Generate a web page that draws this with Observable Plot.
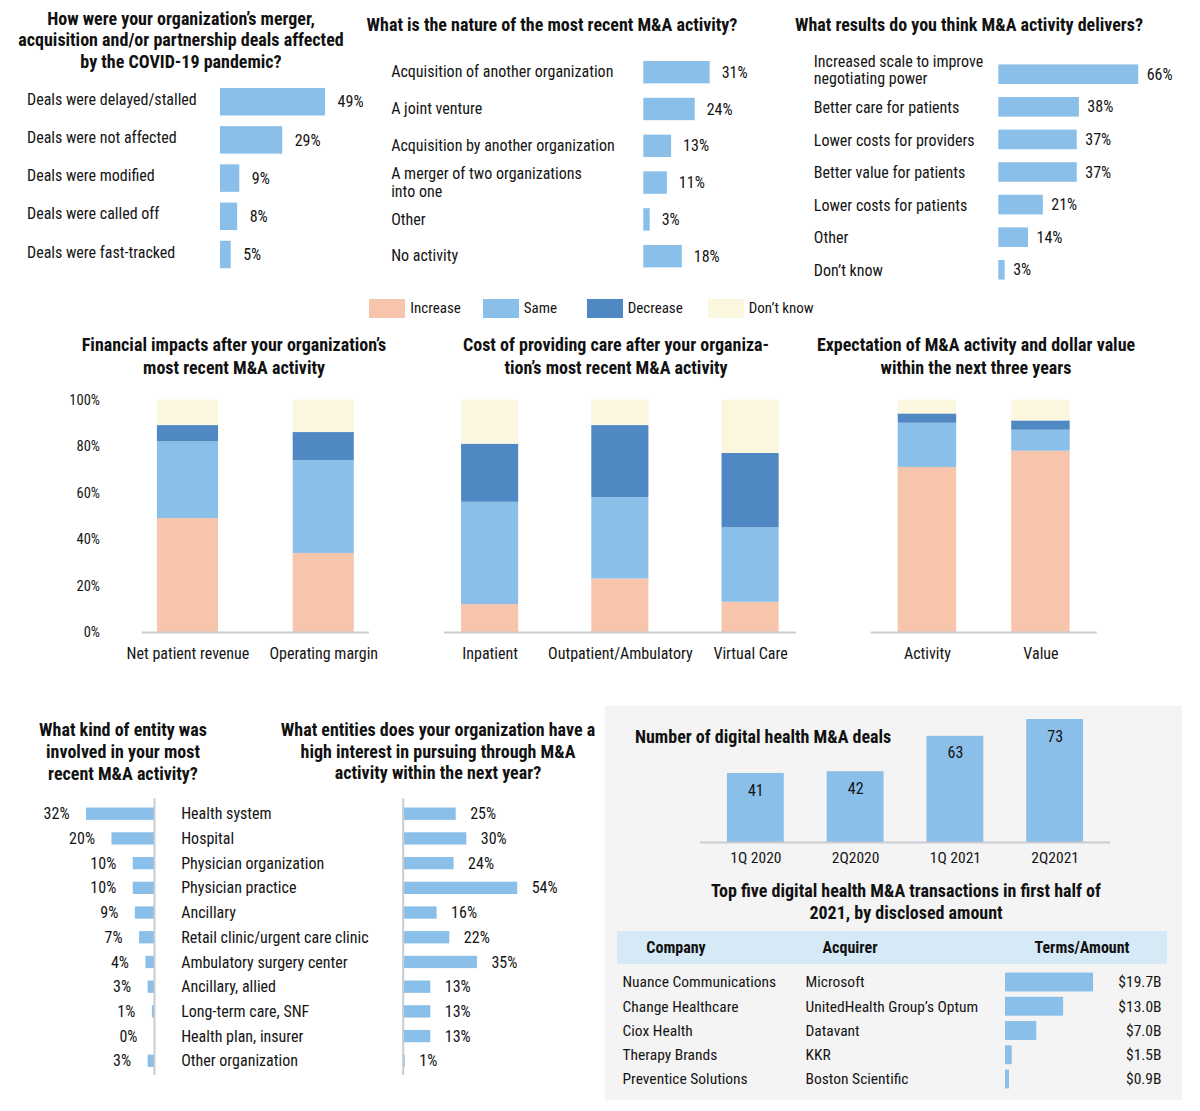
<!DOCTYPE html>
<html><head><meta charset="utf-8">
<script src="https://cdn.jsdelivr.net/npm/d3@7"></script>
<script src="https://cdn.jsdelivr.net/npm/@observablehq/plot@0.6"></script>
<style>
body{margin:0;background:#fff;}
#root{position:relative;width:1200px;height:1111px;overflow:hidden;font-family:"Roboto Condensed","Liberation Sans Narrow","DejaVu Sans Condensed","Arial Narrow",Roboto,sans-serif;font-stretch:condensed;color:#141414;}
.t{position:absolute;font-weight:700;font-size:18px;text-align:center;color:#111;white-space:pre;}
.h{position:absolute;font-weight:700;font-size:16px;color:#111;white-space:pre;}
</style></head><body><div id="root"></div>
<script>
// ---------------- DATA ----------------
const covidLabels = ["Deals were delayed/stalled","Deals were not affected","Deals were modified","Deals were called off","Deals were fast-tracked"];
const covidValues = [49,29,9,8,5];
const natureLabels = ["Acquisition of another organization","A joint venture","Acquisition by another organization","A merger of two organizations\ninto one","Other","No activity"];
const natureValues = [31,24,13,11,3,18];
const resultsLabels = ["Increased scale to improve\nnegotiating power","Better care for patients","Lower costs for providers","Better value for patients","Lower costs for patients","Other","Don’t know"];
const resultsValues = [66,38,37,37,21,14,3];
const responses = ["Increase","Same","Decrease","Don’t know"];
const responseColors = ["#f7c5ac","#89bfe8","#4f88c3","#fbf6de"];
const financialCategories = ["Net patient revenue","Operating margin"];
const financialIncrease = [49,34], financialSame = [33,40], financialDecrease = [7,12], financialDontKnow = [11,14];
const costCategories = ["Inpatient","Outpatient/Ambulatory","Virtual Care"];
const costIncrease = [12,23,13], costSame = [44,35,32], costDecrease = [25,31,32], costDontKnow = [19,11,23];
const expectCategories = ["Activity","Value"];
const expectIncrease = [71,78], expectSame = [19,9], expectDecrease = [4,4], expectDontKnow = [6,9];
const percentTicks = [0,20,40,60,80,100];
const entityLabels = ["Health system","Hospital","Physician organization","Physician practice","Ancillary","Retail clinic/urgent care clinic","Ambulatory surgery center","Ancillary, allied","Long-term care, SNF","Health plan, insurer","Other organization"];
const entityRecent = [32,20,10,10,9,7,4,3,1,0,3];
const entityInterest = [25,30,24,54,16,22,35,13,13,13,1];
const quarters = ["1Q 2020","2Q2020","1Q 2021","2Q2021"];
const dealCounts = [41,42,63,73];
const companies = ["Nuance Communications","Change Healthcare","Ciox Health","Therapy Brands","Preventice Solutions"];
const acquirers = ["Microsoft","UnitedHealth Group’s Optum","Datavant","KKR","Boston Scientific"];
const amounts = [19.7,13.0,7.0,1.5,0.9];
const amountLabels = ["$19.7B","$13.0B","$7.0B","$1.5B","$0.9B"];
const tableHeaders = ["Company","Acquirer","Terms/Amount"];

// ---------------- HELPERS ----------------
const FONT = '"Roboto Condensed","Liberation Sans Narrow","DejaVu Sans Condensed","Arial Narrow",Roboto,sans-serif';
const BLUE = "#89bfe8";
const INK = "#141414";
const AXIS = "#c9ccd0";
const root = document.getElementById("root");
const baseStyle = {fontFamily: FONT, fontSize: "16px", background: "transparent", color: INK, overflow: "visible", fontStretch: "condensed"};

function place(node, left, top) {
  node.style.position = "absolute";
  node.style.left = left + "px";
  node.style.top = top + "px";
  root.appendChild(node);
  return node;
}
function title(text, cx, firstY, lh = 22, size = 18) {
  const d = document.createElement("div");
  d.className = "t";
  d.textContent = text;
  d.style.fontSize = size + "px";
  d.style.lineHeight = lh + "px";
  d.style.width = "700px";
  d.style.left = (cx - 350) + "px";
  d.style.top = (firstY - lh / 2) + "px";
  root.appendChild(d);
}
function box(left, top, w, h, bg) {
  const d = document.createElement("div");
  Object.assign(d.style, {position: "absolute", left: left + "px", top: top + "px", width: w + "px", height: h + "px", background: bg});
  root.appendChild(d);
}

function hbarPanel({labels, values, left, top, width, labelX, barX, pxPer, rowFirst, step, barH, valueDx, labelDy = 0, multiDy = 0}) {
  const rows = labels.map((label, i) => ({label, value: values[i]}));
  const single = rows.filter(d => !d.label.includes("\n"));
  const multi = rows.filter(d => d.label.includes("\n"));
  const y0 = rowFirst - step / 2 - top, y1 = y0 + step * labels.length;
  const bx = barX - left;
  const labelOpts = {y: "label", text: "label", frameAnchor: "left", dx: labelX - barX, textAnchor: "start", fontSize: 16, lineHeight: 1.1, fill: INK};
  const plot = Plot.plot({
    width, height: Math.ceil(y1 + 6),
    marginLeft: bx, marginRight: 0, marginTop: 0, marginBottom: 0,
    style: baseStyle,
    x: {domain: [0, 100], range: [bx, bx + pxPer * 100], axis: null},
    y: {domain: labels, range: [y0, y1], padding: 0, round: false, axis: null},
    marks: [
      Plot.barX(rows, {x: "value", y: "label", fill: BLUE, insetTop: (step - barH) / 2, insetBottom: (step - barH) / 2}),
      Plot.text(single, {...labelOpts, dy: labelDy}),
      Plot.text(multi, {...labelOpts, dy: labelDy + multiDy}),
      Plot.text(rows, {x: "value", y: "label", text: d => d.value + "%", dx: valueDx, textAnchor: "start", fontSize: 16, fill: INK})
    ]
  });
  place(plot, left, top);
}

function stackPanel({cats, series, left, width, frameL, frameR, pi, po, showY}) {
  const top = 380, height = 300;
  const rows = [];
  cats.forEach((c, i) => responses.forEach((r, j) => rows.push({cat: c, resp: r, value: series[j][i]})));
  const plot = Plot.plot({
    width, height,
    marginTop: 399.5 - top, marginBottom: height - (632 - top),
    marginLeft: frameL - left, marginRight: width - (frameR - left),
    style: {...baseStyle, fontSize: "14.5px"},
    x: {domain: cats, paddingInner: pi, paddingOuter: po, round: false, axis: null},
    y: showY ? {domain: [0, 100], ticks: percentTicks, tickFormat: d => d + "%", tickSize: 0, tickPadding: frameL - 99.5, label: null}
             : {domain: [0, 100], axis: null},
    color: {domain: responses, range: responseColors},
    marks: [
      Plot.barY(rows, {x: "cat", y: "value", fill: "resp", order: null}),
      Plot.ruleY([0], {stroke: AXIS, strokeWidth: 2}),
      Plot.text(cats, {x: d => d, frameAnchor: "bottom", dy: 26, fontSize: 16, fill: INK})
    ]
  });
  place(plot, left, top);
}

// ---------------- TOP ROW ----------------
title("How were your organization’s merger,\nacquisition and/or partnership deals affected\nby the COVID-19 pandemic?", 181, 18.5, 21.7);
hbarPanel({labels: covidLabels, values: covidValues, left: 0, top: 78, width: 380, labelX: 26.5, barX: 220, pxPer: 2.145, rowFirst: 101.7, step: 38.2, barH: 27.5, valueDx: 12, labelDy: -3});

title("What is the nature of the most recent M&A activity?", 552, 25);
hbarPanel({labels: natureLabels, values: natureValues, left: 370, top: 50, width: 420, labelX: 390.7, barX: 643.3, pxPer: 2.14, rowFirst: 72.2, step: 36.8, barH: 22.4, valueDx: 11.5, labelDy: -1});

title("What results do you think M&A activity delivers?", 969, 25);
hbarPanel({labels: resultsLabels, values: resultsValues, left: 800, top: 52, width: 400, labelX: 813.3, barX: 998.3, pxPer: 2.12, rowFirst: 74.2, step: 32.6, barH: 19.6, valueDx: 8, multiDy: -5});

// ---------------- LEGEND ----------------
const legendLefts = [369.3, 482.7, 586.7, 707.7];
responses.forEach((r, i) => {
  box(legendLefts[i], 298.5, 36, 19.4, responseColors[i]);
  const tx = document.createElement("div");
  tx.textContent = r;
  Object.assign(tx.style, {position: "absolute", left: (legendLefts[i] + 41) + "px", top: "298px", fontSize: "15px", lineHeight: "20px", whiteSpace: "pre"});
  root.appendChild(tx);
});

// ---------------- MIDDLE ROW ----------------
title("Financial impacts after your organization’s\nmost recent M&A activity", 234, 344.5, 23);
stackPanel({cats: financialCategories, series: [financialIncrease, financialSame, financialDecrease, financialDontKnow],
  left: 0, width: 410, frameL: 141.7, frameR: 369, pi: 0.55, po: 0.112, showY: true});

title("Cost of providing care after your organiza-\ntion’s most recent M&A activity", 616, 344.5, 23);
stackPanel({cats: costCategories, series: [costIncrease, costSame, costDecrease, costDontKnow],
  left: 420, width: 400, frameL: 444, frameR: 795.7, pi: 0.5615, po: 0.131, showY: false});

title("Expectation of M&A activity and dollar value\nwithin the next three years", 976, 344.5, 23);
stackPanel({cats: expectCategories, series: [expectIncrease, expectSame, expectDecrease, expectDontKnow],
  left: 830, width: 370, frameL: 870.7, frameR: 1096.7, pi: 0.485, po: 0.238, showY: false});

// ---------------- BOTTOM LEFT ----------------
title("What kind of entity was\ninvolved in your most\nrecent M&A activity?", 123, 730, 21.7);
title("What entities does your organization have a\nhigh interest in pursuing through M&A\nactivity within the next year?", 438, 730, 21.5);

(function () {
  const top = 790, step = 24.71, rowFirst = 813.7, barH = 12.3;
  const y0 = rowFirst - step / 2 - top, y1 = y0 + step * entityLabels.length;
  const recentRows = entityLabels.map((label, i) => ({label, value: entityRecent[i]}));
  const interestRows = entityLabels.map((label, i) => ({label, value: entityInterest[i]}));
  const ins = (step - barH) / 2;
  const w1 = 400;
  const left = Plot.plot({
    width: w1, height: 295, marginTop: 8.3, marginBottom: 10, marginLeft: 0, marginRight: w1 - 180.7,
    style: baseStyle,
    x: {domain: [0, 100], range: [154, 154 - 2.125 * 100], axis: null},
    y: {domain: entityLabels, range: [y0, y1], padding: 0, round: false, axis: null},
    marks: [
      Plot.barX(recentRows, {x: "value", y: "label", fill: BLUE, insetTop: ins, insetBottom: ins}),
      Plot.ruleX([0], {stroke: AXIS, strokeWidth: 2}),
      Plot.text(recentRows, {x: "value", y: "label", text: d => d.value + "%", dx: -17, textAnchor: "end", fontSize: 16, fill: INK}),
      Plot.text(recentRows, {y: "label", text: "label", frameAnchor: "right", textAnchor: "start", fontSize: 16, fill: INK})
    ]
  });
  place(left, 0, top);
  const lx = 390, w2 = 210;
  const right = Plot.plot({
    width: w2, height: 295, marginTop: 8.3, marginBottom: 10, marginLeft: 0, marginRight: 0,
    style: baseStyle,
    x: {domain: [0, 100], range: [402.7 - lx, 402.7 - lx + 2.12 * 100], axis: null},
    y: {domain: entityLabels, range: [y0, y1], padding: 0, round: false, axis: null},
    marks: [
      Plot.barX(interestRows, {x: "value", y: "label", fill: BLUE, insetTop: ins, insetBottom: ins}),
      Plot.ruleX([0], {stroke: AXIS, strokeWidth: 2}),
      Plot.text(interestRows, {x: "value", y: "label", text: d => d.value + "%", dx: 14, textAnchor: "start", fontSize: 16, fill: INK})
    ]
  });
  place(right, lx, top);
})();

// ---------------- BOTTOM RIGHT ----------------
box(605, 706, 577, 394, "#f4f4f4");
(function () {
  const t = document.createElement("div");
  t.className = "h";
  t.textContent = "Number of digital health M&A deals";
  Object.assign(t.style, {left: "635px", top: "726px", fontSize: "18px", lineHeight: "22px"});
  root.appendChild(t);

  const left = 606, top = 707, width = 574, height = 170;
  const rows = quarters.map((q, i) => ({q, count: dealCounts[i]}));
  const base = 842 - top;
  const plot = Plot.plot({
    width, height, marginTop: 5, marginBottom: height - base, marginLeft: 700 - left, marginRight: width - (1110 - left),
    style: baseStyle,
    x: {domain: quarters, paddingInner: 0.43, paddingOuter: 0.27, round: false, axis: null},
    y: {domain: [0, 100], range: [base, base - 1.685 * 100], axis: null},
    marks: [
      Plot.barY(rows, {x: "q", y: "count", fill: BLUE}),
      Plot.ruleY([0], {stroke: AXIS, strokeWidth: 2}),
      Plot.text(rows, {x: "q", y: "count", text: d => String(d.count), dy: 17, fontSize: 16, fill: INK}),
      Plot.text(quarters, {x: d => d, frameAnchor: "bottom", dy: 20, fontSize: 15.5, fill: INK})
    ]
  });
  place(plot, left, top);

  title("Top five digital health M&A transactions in first half of\n2021, by disclosed amount", 906, 891, 22);
  box(617, 931, 550, 33, "#d5e9f7");
  const hx = [676, 850, 1082];
  tableHeaders.forEach((h, i) => {
    const d = document.createElement("div");
    d.className = "h";
    d.textContent = h;
    Object.assign(d.style, {left: (hx[i] - 100) + "px", width: "200px", textAlign: "center", top: "937px", lineHeight: "22px"});
    root.appendChild(d);
  });

  const tTop = 968, tStep = 24.25, tFirst = 982;
  const ty0 = tFirst - tStep / 2 - tTop, ty1 = ty0 + tStep * companies.length;
  const trows = companies.map((c, i) => ({company: c, acquirer: acquirers[i], amount: amounts[i], label: amountLabels[i]}));
  const tw = 574;
  const table = Plot.plot({
    width: tw, height: 128, marginTop: 0, marginBottom: 0, marginLeft: 0, marginRight: tw - (1161 - left),
    style: baseStyle,
    x: {domain: [0, 20], range: [1005 - left, 1005 - left + 4.47 * 20], axis: null},
    y: {domain: companies, range: [ty0, ty1], padding: 0, round: false, axis: null},
    marks: [
      Plot.barX(trows, {x: "amount", y: "company", fill: BLUE, insetTop: 2.7, insetBottom: 2.7}),
      Plot.text(trows, {y: "company", text: "company", frameAnchor: "left", dx: 622 - left, textAnchor: "start", fontSize: 15.5, fill: INK}),
      Plot.text(trows, {y: "company", text: "acquirer", frameAnchor: "left", dx: 805 - left, textAnchor: "start", fontSize: 15.5, fill: INK}),
      Plot.text(trows, {y: "company", text: "label", frameAnchor: "right", textAnchor: "end", fontSize: 15.5, fill: INK})
    ]
  });
  place(table, left, tTop);
})();
</script></body></html>
